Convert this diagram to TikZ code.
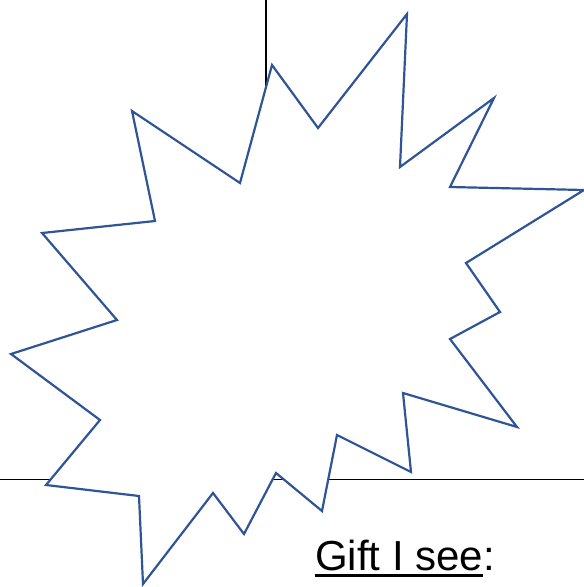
\documentclass[tikz,border=0pt]{standalone}
\usepackage{fontspec}
\setmainfont{Liberation Sans}
\usepackage{tikz}
\usetikzlibrary{calc,positioning}
\definecolor{burstblue}{HTML}{2F5597}

\begin{document}
\begin{tikzpicture}[x=1pt, y=-1pt,
    grid/.style={line width=1.6pt, black},
    burst/.style={line width=2.2pt, burstblue, fill=white, line join=miter},
    caption/.style={inner sep=0pt, anchor=base west, font=\fontsize{42}{50}\selectfont}
]
    \useasboundingbox (0,0) rectangle (584,587);

    % Quadrant lines
    \coordinate (vtop) at (266,0);
    \coordinate (vbot) at (266,479.5);
    \coordinate (hleft) at (0,479.5);
    \coordinate (hright) at (584,479.5);
    \draw[grid] (vtop) -- (vbot);
    \draw[grid] (hleft) -- (hright);

    % Explosion shape
    \draw[burst] (272,65) -- (318,128) -- (407,14) -- (400,167) -- (494,98)
        -- (450,187) -- (584,190) -- (466,263) -- (500,312) -- (450,339)
        -- (517,427) -- (403,393) -- (411,472) -- (337,435) -- (322,511)
        -- (276,473) -- (244,534) -- (213,493) -- (143,584) -- (139,496)
        -- (46,485) -- (100,420) -- (11,354) -- (117,320) -- (42,233)
        -- (155,221) -- (132,111) -- (240,183) -- cycle;

    % Caption
    \node[caption] (gift) at (315,570) {Gift I see};
    \node[caption] (colon) at (gift.base east) {:};
    \draw[line width=3pt] ([yshift=-5.5pt]gift.base west) -- ([yshift=-5.5pt]gift.base east);

\end{tikzpicture}
\end{document}
